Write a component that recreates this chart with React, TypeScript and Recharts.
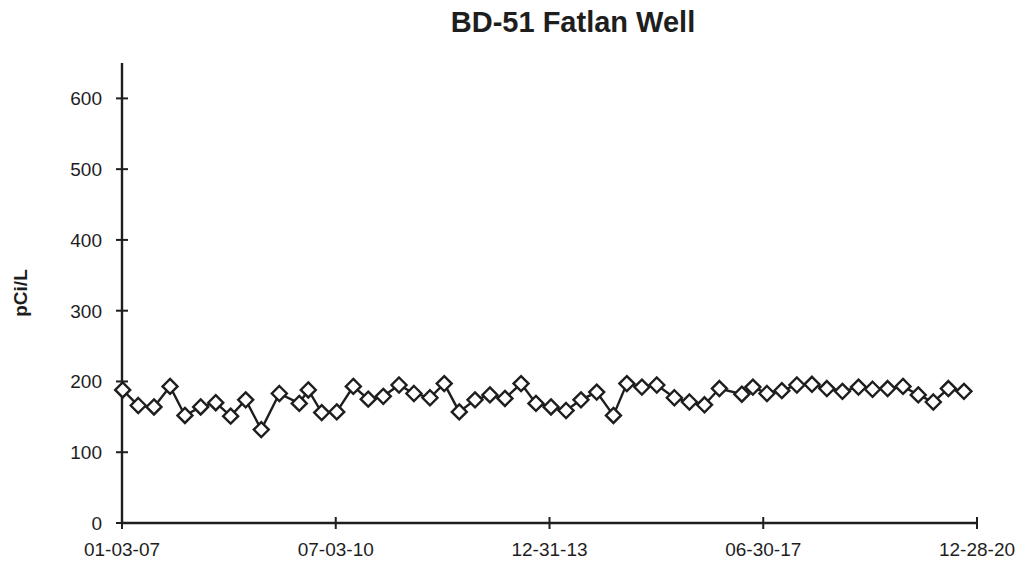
import { Line, LineChart, XAxis, YAxis } from 'recharts';

const sampleDates = [
  '2007-01-07', '2007-04-10', '2007-07-13', '2007-10-17', '2008-01-14', '2008-04-17', '2008-07-16', '2008-10-13',
  '2009-01-11', '2009-04-14', '2009-07-31', '2009-11-27', '2010-01-20', '2010-04-10', '2010-07-09', '2010-10-16',
  '2011-01-13', '2011-04-13', '2011-07-16', '2011-10-13', '2012-01-17', '2012-04-11', '2012-07-10', '2012-10-12',
  '2013-01-09', '2013-04-09', '2013-07-14', '2013-10-11', '2014-01-09', '2014-04-09', '2014-07-07', '2014-10-09',
  '2015-01-17', '2015-04-07', '2015-07-06', '2015-10-03', '2016-01-16', '2016-04-15', '2016-07-14', '2016-10-11',
  '2017-02-22', '2017-04-29', '2017-07-22', '2017-10-19', '2018-01-17', '2018-04-17', '2018-07-15', '2018-10-16',
  '2019-01-20', '2019-04-14', '2019-07-13', '2019-10-13', '2020-01-12', '2020-04-11', '2020-07-10', '2020-10-11',
];

const radium = [
  188, 166, 164, 193, 152, 164, 170, 151, 174, 132,
  183, 169, 188, 156, 157, 193, 175, 179, 195, 183,
  177, 197, 157, 174, 181, 176, 197, 169, 164, 159,
  174, 185, 152, 197, 192, 195, 177, 171, 167, 190,
  182, 192, 183, 187, 195, 196, 190, 186, 192, 189,
  190, 193, 181, 171, 190, 186,
];

const xTickDates = ['2007-01-03', '2010-07-03', '2013-12-31', '2017-06-30', '2020-12-28'];
const yTicks = [0, 100, 200, 300, 400, 500, 600];

const data = sampleDates.map((d, i) => ({ t: Date.parse(d), v: radium[i] }));
const xTicks = xTickDates.map((d) => Date.parse(d));

const INK = '#1e1e1e';
const FONT = '"Liberation Sans", Arial, sans-serif';

const pad = (n: number) => String(n).padStart(2, '0');
const fmtDate = (t: number) => {
  const d = new Date(t);
  return `${pad(d.getUTCMonth() + 1)}-${pad(d.getUTCDate())}-${pad(d.getUTCFullYear() % 100)}`;
};

function XTick({ x, y, payload }: any) {
  return (
    <g>
      <line x1={x} x2={x} y1={y - 6} y2={y + 6} stroke={INK} strokeWidth={2} />
      <text x={x} y={y + 33} textAnchor="middle" fontSize={19} fontFamily={FONT} fill={INK}>
        {fmtDate(payload.value)}
      </text>
    </g>
  );
}

function YTick({ x, y, payload }: any) {
  return (
    <g>
      <line x1={x - 6} x2={x + 6} y1={y} y2={y} stroke={INK} strokeWidth={2} />
      <text x={x - 20} y={y + 7} textAnchor="end" fontSize={19} fontFamily={FONT} fill={INK}>
        {payload.value}
      </text>
    </g>
  );
}

function Diamond({ cx, cy }: any) {
  const r = 7.5;
  return (
    <polygon
      points={`${cx},${cy - r} ${cx + r},${cy} ${cx},${cy + r} ${cx - r},${cy}`}
      fill="#fff"
      stroke={INK}
      strokeWidth={2.4}
    />
  );
}

export default function App() {
  return (
    <div style={{ position: 'absolute', left: 0, top: 0, width: 1025, height: 562, background: '#fff' }}>
      <LineChart width={1025} height={562} data={data} margin={{ top: 63, right: 48, left: 62, bottom: 9 }}>
        <text x={573} y={32} textAnchor="middle" fontSize={29} fontWeight="bold" fontFamily={FONT} fill={INK}>
          BD-51 Fatlan Well
        </text>
        <XAxis
          dataKey="t"
          type="number"
          scale="time"
          domain={[xTicks[0], xTicks[xTicks.length - 1]]}
          ticks={xTicks}
          height={30}
          tickSize={0}
          tickMargin={0}
          tickLine={false}
          axisLine={{ stroke: INK, strokeWidth: 2.4 }}
          tick={<XTick />}
          interval={0}
        />
        <YAxis
          type="number"
          domain={[0, 650]}
          ticks={yTicks}
          width={60}
          tickSize={0}
          tickMargin={0}
          tickLine={false}
          axisLine={{ stroke: INK, strokeWidth: 2.4 }}
          tick={<YTick />}
          interval={0}
          label={{
            position: 'insideLeft',
            content: ({ viewBox }: any) => {
              const cy = viewBox.y + viewBox.height / 2;
              return (
                <text
                  x={27}
                  y={cy}
                  transform={`rotate(-90, 27, ${cy})`}
                  textAnchor="middle"
                  fontSize={19}
                  fontWeight="bold"
                  fontFamily={FONT}
                  fill={INK}
                >
                  pCi/L
                </text>
              );
            },
          }}
        />
        <Line
          dataKey="v"
          stroke={INK}
          strokeWidth={2.4}
          dot={<Diamond />}
          activeDot={false}
          isAnimationActive={false}
        />
      </LineChart>
    </div>
  );
}
